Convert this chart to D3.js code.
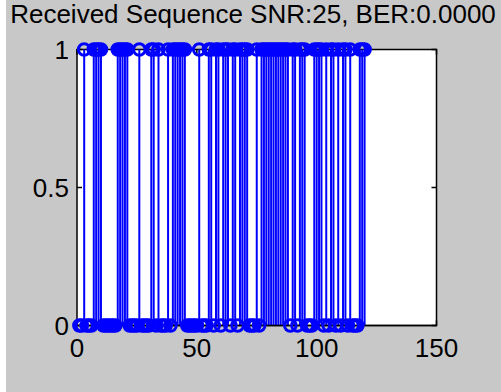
<!DOCTYPE html>
<html>
<head>
<meta charset="utf-8">
<script src="https://cdn.jsdelivr.net/npm/d3@7"></script>
<style>
  html, body { margin: 0; padding: 0; background: #fff; }
  svg { display: block; }
  text { font-family: "Liberation Sans", Arial, sans-serif; fill: #000; }
</style>
</head>
<body>
<svg id="chart" width="501" height="392"></svg>
<script>
// Received bit sequence (sample n = 1..120)
const bits = [
  0,0,1,0,0,0,1,1,1,1,
  0,0,0,0,0,0,1,1,1,1,
  1,0,0,0,0,1,0,0,0,0,
  1,1,0,1,0,0,0,1,0,1,
  1,1,1,1,1,0,0,0,0,0,
  1,0,0,0,1,1,0,1,1,0,
  1,1,1,0,1,1,0,1,1,1,
  1,0,0,0,1,0,1,1,1,1,
  1,1,1,1,1,1,1,1,0,1,
  1,0,1,1,1,0,0,0,1,1,
  1,1,0,1,0,1,1,0,1,0,
  1,1,0,1,0,0,0,1,1,1
];
const xTicks = [0, 50, 100, 150];
const yTicks = [0, 0.5, 1];
const yTickLabels = ["0", "0.5", "1"];
const titleText = "Received Sequence SNR:25, BER:0.0000";

const svg = d3.select("#chart");
const W = 501, H = 392;

// figure background
svg.append("rect").attr("width", W).attr("height", H).attr("fill", "#c8c8c8");
svg.append("rect").attr("width", 6).attr("height", H).attr("fill", "#ffffff");

const axL = 77, axR = 436.5, axT = 49.5, axB = 325.5;
const x = d3.scaleLinear().domain([0, 150]).range([axL, axR]);
const y = d3.scaleLinear().domain([0, 1]).range([axB, axT]);

// axes area
svg.append("rect")
  .attr("x", axL).attr("y", axT)
  .attr("width", axR - axL).attr("height", axB - axT)
  .attr("fill", "#fff");

const data = bits.map((v, i) => ({ n: i + 1, v }));
const blue = "#0000ff";

// box and ticks (ticks inside on all four sides)
const axisG = svg.append("g");
axisG.append("rect")
  .attr("x", axL).attr("y", axT)
  .attr("width", axR - axL).attr("height", axB - axT)
  .attr("fill", "none").attr("stroke", "#000").attr("stroke-width", 1.5);

const tl = 5;
xTicks.forEach(t => {
  axisG.append("line").attr("x1", x(t)).attr("x2", x(t))
    .attr("y1", axB).attr("y2", axB - tl).attr("stroke", "#000").attr("stroke-width", 1.5);
  axisG.append("line").attr("x1", x(t)).attr("x2", x(t))
    .attr("y1", axT).attr("y2", axT + tl).attr("stroke", "#000").attr("stroke-width", 1.5);
  axisG.append("text").attr("x", x(t)).attr("y", 357)
    .attr("text-anchor", "middle").attr("font-size", 26).text(String(t));
});
yTicks.forEach((t, i) => {
  axisG.append("line").attr("x1", axL).attr("x2", axL + tl)
    .attr("y1", y(t)).attr("y2", y(t)).attr("stroke", "#000").attr("stroke-width", 1.5);
  axisG.append("line").attr("x1", axR).attr("x2", axR - tl)
    .attr("y1", y(t)).attr("y2", y(t)).attr("stroke", "#000").attr("stroke-width", 1.5);
  axisG.append("text").attr("x", 69).attr("y", y(t) + 9)
    .attr("text-anchor", "end").attr("font-size", 26).text(yTickLabels[i]);
});

// stems
svg.append("g").selectAll("line").data(data.filter(d => d.v !== 0)).join("line")
  .attr("x1", d => x(d.n)).attr("x2", d => x(d.n))
  .attr("y1", y(0)).attr("y2", d => y(d.v))
  .attr("stroke", blue).attr("stroke-width", 2);

// baseline
svg.append("line")
  .attr("x1", x(0)).attr("x2", x(150))
  .attr("y1", y(0)).attr("y2", y(0))
  .attr("stroke", "#000").attr("stroke-width", 1.5);

// markers
svg.append("g").selectAll("circle").data(data).join("circle")
  .attr("cx", d => x(d.n)).attr("cy", d => y(d.v))
  .attr("r", 5.8)
  .attr("fill", "none").attr("stroke", blue).attr("stroke-width", 3);

// title
svg.append("text").attr("x", 253).attr("y", 23)
  .attr("text-anchor", "middle").attr("font-size", 26).text(titleText);
</script>
</body>
</html>
